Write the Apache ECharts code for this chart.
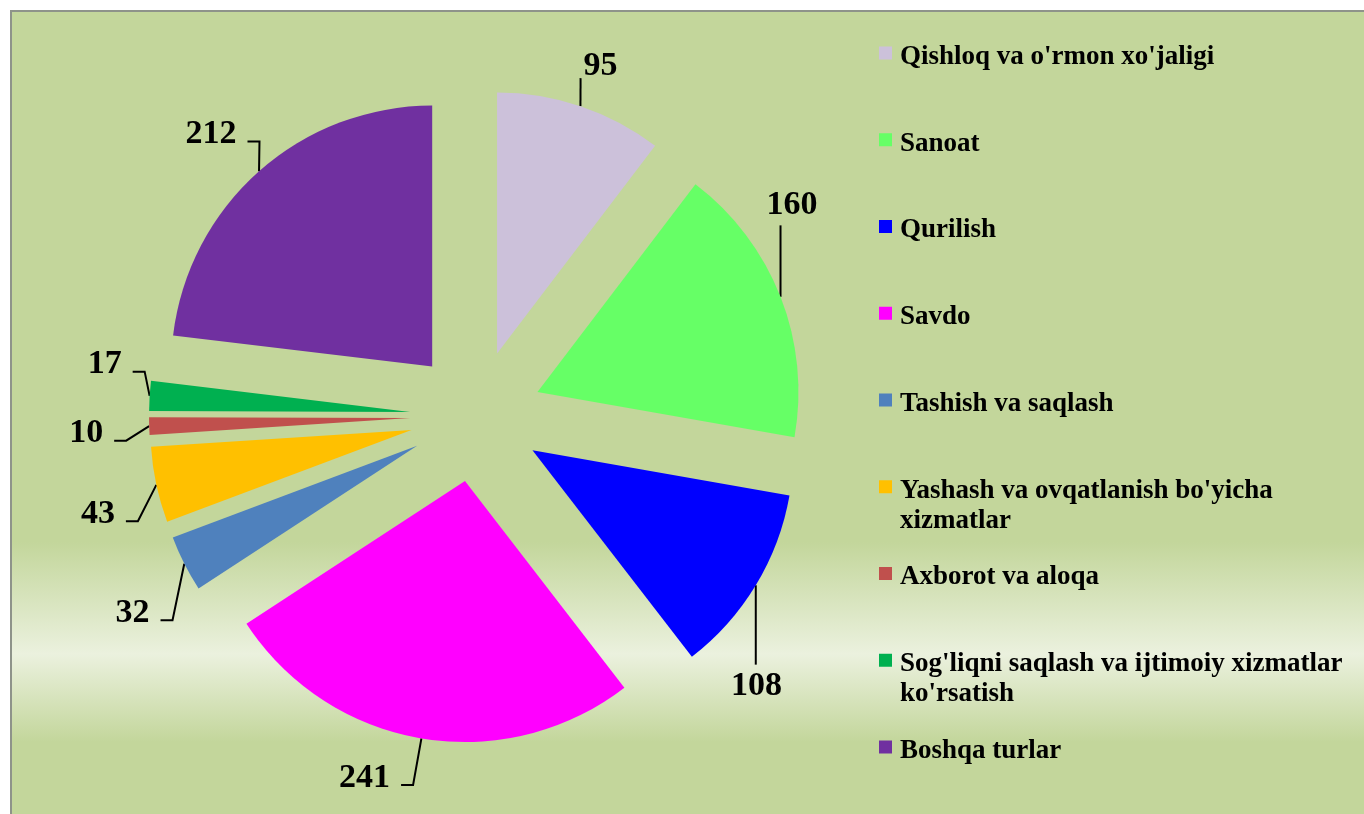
<!DOCTYPE html>
<html>
<head>
<meta charset="utf-8">
<script src="https://cdn.jsdelivr.net/npm/echarts@6/dist/echarts.min.js"></script>
<style>
  html, body { margin: 0; padding: 0; background: #ffffff; overflow: hidden; }
  .chart-bg {
    position: absolute; left: 10px; top: 10px; width: 1400px; height: 850px;
    border-left: 2px solid #8e938a; border-top: 2px solid #8e938a;
    background: linear-gradient(to bottom, #c3d69b 0px, #c3d69b 530px, #ebf1de 642px, #c3d69b 730px, #c3d69b 100%);
  }
  #main { position: absolute; left: 0; top: 0; width: 1364px; height: 814px; }
</style>
</head>
<body>
<div class="chart-bg"></div>
<div id="main"></div>
<script>
  // tarmoqlar va qiymatlar
  var categories = [
    "Qishloq va o'rmon xo'jaligi",
    "Sanoat",
    "Qurilish",
    "Savdo",
    "Tashish va saqlash",
    "Yashash va ovqatlanish bo'yicha",
    "Axborot va aloqa",
    "Sog'liqni saqlash va ijtimoiy xizmatlar",
    "Boshqa turlar"
  ];
  // second line of the long legend names
  var nameTails = ['', '', '', '', '', 'xizmatlar', '', "ko'rsatish", ''];
  var values = [95, 160, 108, 241, 32, 43, 10, 17, 212];
  var colors = ['#ccc1da', '#66ff66', '#0000ff', '#ff00ff', '#4f81bd', '#ffc000', '#c0504d', '#00b050', '#7030a0'];

  // label line lengths (first / second segment) for the default layout
  var lineLen1 = [38, 15, 20, 38, 30, 25, 20, 20, 40];
  var lineLen2 = [0, 0, 0, 17, 5, 5, 5, 5, 0];
  // extra label shifts and leader style (Excel-like leader lines)
  var labelDx = [-12, -31, -45, -5, 0, -9, -18, 0, 7];
  var labelDy = [-4, -86, 91, 2, 36, 24, 7, -30, -7];
  var leaderType = ['straight', 'vertical', 'vertical', 'elbow', 'elbow', 'elbow', 'elbow', 'elbow', 'elbow'];

  var chart = echarts.init(document.getElementById('main'));

  var pieData = categories.map(function (name, i) {
    return {
      name: name,
      value: values[i],
      selected: true,
      itemStyle: { color: colors[i] },
      labelLine: { length: lineLen1[i], length2: lineLen2[i] }
    };
  });

  var legendFont = {
    fontFamily: 'Liberation Serif',
    fontWeight: 'bold',
    fontSize: 27,
    color: '#000'
  };

  // one legend per item so the rows keep an even step
  var legends = [];
  var tails = [];
  categories.forEach(function (name, i) {
    var iconCenter = 54 + 86.75 * i;
    legends.push({
      orient: 'vertical',
      left: 879,
      top: iconCenter - 18.5,
      padding: 0,
      itemWidth: 13,
      itemHeight: 13,
      icon: 'rect',
      selectedMode: false,
      data: [name],
      formatter: function (n) { return '{t|' + n + '}'; },
      textStyle: Object.assign({
        padding: [0, 0, 0, 3],
        rich: { t: Object.assign({ lineHeight: 29, padding: [8, 0, 0, 0] }, legendFont) }
      }, legendFont)
    });
    if (nameTails[i]) {
      tails.push({
        type: 'text',
        left: 900,
        top: iconCenter + 33 - 14.5,
        style: Object.assign({ text: nameTails[i], lineHeight: 29 }, legendFont)
      });
    }
  });

  function leaderLayout(p) {
    var i = p.dataIndex;
    var dx = labelDx[i], dy = labelDy[i];
    var res = { hideOverlap: false, dx: dx, dy: dy };
    var pts = p.labelLinePoints;
    if (!pts) return res;
    var a = pts[0], e = pts[pts.length - 1];
    var side = p.align === 'right' ? -1 : (p.align === 'left' ? 1 : (e[0] >= a[0] ? 1 : -1));
    var ex = e[0] + dx, ey = e[1] + dy;
    var end, bend;
    if (leaderType[i] === 'vertical') {
      end = [a[0], ey + (dy < 0 ? 20 : -22)];
      bend = end;
    } else if (leaderType[i] === 'straight') {
      end = [ex, ey + 12];
      bend = end;
    } else {
      end = [ex - side * 8, ey + 7];
      bend = [end[0] - side * 12, end[1]];
    }
    res.labelLinePoints = [a.slice(), bend.slice(), end.slice()];
    return res;
  }

  var option = {
    animation: false,
    legend: legends,
    graphic: tails,
    series: [{
      type: 'pie',
      center: [476, 416],
      radius: 261,
      startAngle: 90,
      clockwise: true,
      selectedMode: 'multiple',
      selectedOffset: 66,
      avoidLabelOverlap: false,
      labelLayout: leaderLayout,
      emphasis: { disabled: true },
      label: {
        show: true,
        position: 'outside',
        formatter: '{c}',
        fontFamily: 'Liberation Serif',
        fontWeight: 'bold',
        fontSize: 34,
        color: '#000',
        distanceToLabelLine: 3
      },
      labelLine: {
        show: true,
        lineStyle: { color: '#000', width: 2 }
      },
      data: pieData
    }]
  };

  chart.setOption(option);
</script>
</body>
</html>
